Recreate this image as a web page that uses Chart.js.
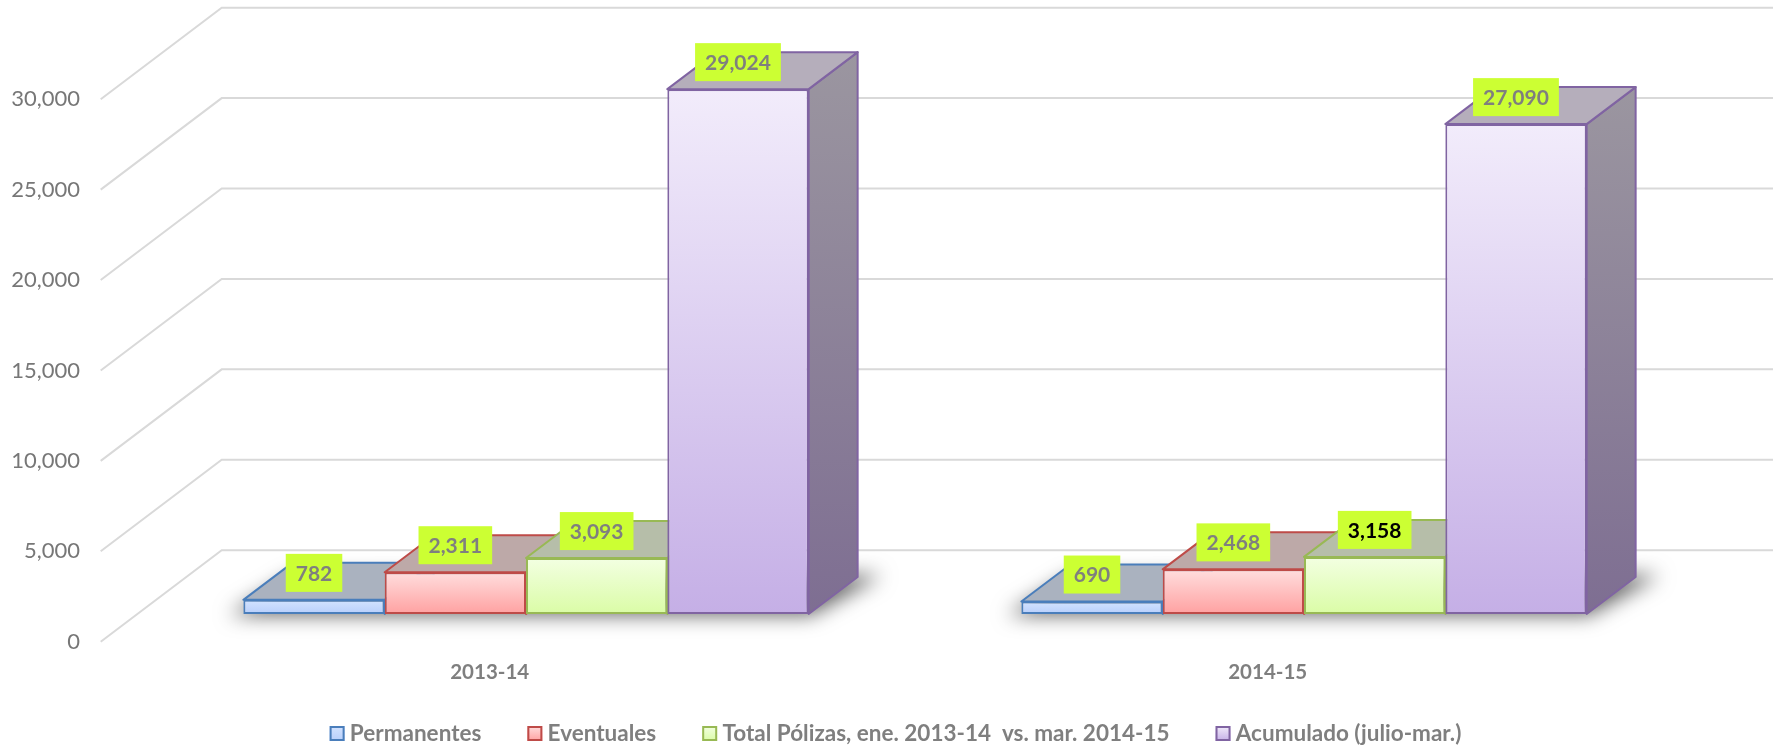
<!DOCTYPE html>
<html><head><meta charset="utf-8">
<style>html,body{margin:0;padding:0;background:#fff}canvas{display:block}</style>
<script src="https://cdn.jsdelivr.net/npm/chart.js@4"></script>
</head><body><canvas id="c" width="1773" height="746"></canvas>
<script>
const categories = ['2013-14', '2014-15'];
const permanentes = [782, 690];
const eventuales = [2311, 2468];
const totalPolizas = [3093, 3158];
const acumulado = [29024, 27090];
const seriesNames = ['Permanentes', 'Eventuales', 'Total Pólizas, ene. 2013-14  vs. mar. 2014-15', 'Acumulado (julio-mar.)'];
const seriesValues = [permanentes, eventuales, totalPolizas, acumulado];
const frontTop = ['#d3e3ff', '#ffdede', '#f3ffe2', '#f2ecfb'];
const frontBottom = ['#b8cffb', '#ffa1a1', '#dafca6', '#c5afe6'];
const strokes = ['#4a7ebb', '#be4b48', '#98b954', '#8064a2'];
const topFaces = ['#aab2bf', '#bda9a8', '#b6bea9', '#b5aebb'];
const sideTop = ['#8d97a8', '#a88f8e', '#9aa68a', '#9b96a0'];
const sideBottom = ['#7a8aa0', '#9c7878', '#8a9a70', '#7e6e92'];
const labelInk = [['#7f7f7f', '#7f7f7f'], ['#7f7f7f', '#7f7f7f'], ['#7f7f7f', '#000000'], ['#7f7f7f', '#7f7f7f']];

const FONT = 'Lato';
const GREY = '#7f7f7f';
const DEPTH_X = 49, DEPTH_Y = 37;            // depth of a bar in the oblique view
const WALL_X = 121, WALL_Y = 91.5;           // depth of the whole floor
const FRONT_X = -36.3, FRONT_Y = 27.7;       // offset from bar plane to the chart's front edge
const LEGEND_PADDING = 46;

Chart.defaults.font.family = FONT;
Chart.defaults.color = GREY;

function faceGradient(c) {
  const y = c.chart.scales.y;
  const top = c.parsed && y ? y.getPixelForValue(c.parsed.y) : NaN;
  const bottom = y ? y.getPixelForValue(0) : NaN;
  if (!Number.isFinite(top) || !Number.isFinite(bottom)) return frontTop[c.datasetIndex];
  const g = c.chart.ctx.createLinearGradient(0, top, 0, bottom);
  g.addColorStop(0, frontTop[c.datasetIndex]);
  g.addColorStop(1, frontBottom[c.datasetIndex]);
  return g;
}

function poly(ctx, pts) {
  ctx.beginPath();
  pts.forEach((p, i) => i ? ctx.lineTo(p[0], p[1]) : ctx.moveTo(p[0], p[1]));
  ctx.closePath();
}

const oblique = {
  id: 'oblique',
  afterLayout(chart) {
    const lg = chart.legend;
    lg.left += 49; lg.right += 49;
    lg.top = 676;
  },
  beforeDatasetsDraw(chart) {
    const ctx = chart.ctx, y = chart.scales.y, area = chart.chartArea;
    ctx.save();
    ctx.strokeStyle = '#d9d9d9';
    ctx.lineWidth = 2;
    y.ticks.forEach(t => {
      const py = y.getPixelForValue(t.value) + FRONT_Y;
      const fx = area.left + FRONT_X;
      ctx.beginPath();
      ctx.moveTo(fx, py);
      ctx.lineTo(fx + WALL_X, py - WALL_Y);
      ctx.lineTo(chart.width, py - WALL_Y);
      ctx.stroke();
    });
    // soft floor shadow under each group of bars
    const first = chart.getDatasetMeta(0).data, last = chart.getDatasetMeta(seriesNames.length - 1).data;
    const base = y.getPixelForValue(0);
    const off = 4000;
    first.forEach((b, i) => {
      const l = b.x - b.width / 2, r = last[i].x + last[i].width / 2;
      ctx.save();
      ctx.shadowColor = 'rgba(0,0,0,0.62)';
      ctx.shadowBlur = 20;
      ctx.shadowOffsetX = off;
      ctx.fillStyle = '#000';
      poly(ctx, [[l - 14 - off, base + 1], [r + 2 - off, base + 1], [r + DEPTH_X + 24 - off, base - DEPTH_Y - 2], [l + DEPTH_X - off, base - DEPTH_Y]]);
      ctx.fill();
      ctx.restore();
    });
    // side and top faces, painted left to right; the library then paints the fronts over them
    ctx.lineWidth = 2;
    ctx.lineJoin = 'round';
    seriesNames.forEach((_, i) => {
      ctx.strokeStyle = strokes[i];
      chart.getDatasetMeta(i).data.forEach(b => {
        const l = b.x - b.width / 2, r = b.x + b.width / 2, t = b.y, g = b.base;
        const side = ctx.createLinearGradient(0, t - DEPTH_Y, 0, g);
        side.addColorStop(0, sideTop[i]);
        side.addColorStop(1, sideBottom[i]);
        ctx.fillStyle = side;
        poly(ctx, [[r, t], [r + DEPTH_X, t - DEPTH_Y], [r + DEPTH_X, g - DEPTH_Y], [r, g]]);
        ctx.fill(); ctx.stroke();
        ctx.fillStyle = topFaces[i];
        poly(ctx, [[l, t], [l + DEPTH_X, t - DEPTH_Y], [r + DEPTH_X, t - DEPTH_Y], [r, t]]);
        ctx.fill(); ctx.stroke();
      });
    });
    ctx.restore();
  },
  afterDatasetsDraw(chart) {
    const ctx = chart.ctx;
    ctx.save();
    ctx.font = 'bold 21px ' + FONT;
    ctx.textAlign = 'center';
    ctx.textBaseline = 'middle';
    seriesValues.forEach((vals, i) => {
      chart.getDatasetMeta(i).data.forEach((b, j) => {
        const txt = vals[j].toLocaleString('en-US');
        const w = ctx.measureText(txt).width + 20, h = 38, cy = b.y - 27;
        ctx.fillStyle = '#ccff33';
        ctx.fillRect(b.x - w / 2, cy - h / 2, w, h);
        ctx.fillStyle = labelInk[i][j];
        ctx.fillText(txt, b.x, cy + 1);
      });
    });
    ctx.restore();
  },
  afterDraw(chart) {
    // legend swatches: wider than the text offset the legend leaves for them
    const ctx = chart.ctx, lg = chart.legend, size = 15, top = 726;
    let x = (lg.left + LEGEND_PADDING + lg.right - lg.lineWidths[0]) / 2;
    ctx.save();
    lg.legendHitBoxes.forEach((hit, i) => {
      const g = ctx.createLinearGradient(0, top, 0, top + size);
      g.addColorStop(0, frontTop[i]);
      g.addColorStop(1, frontBottom[i]);
      ctx.fillStyle = g;
      ctx.strokeStyle = strokes[i];
      ctx.lineWidth = 2;
      ctx.fillRect(x, top, size, size);
      ctx.strokeRect(x + 1, top + 1, size - 2, size - 2);
      x += hit.width + LEGEND_PADDING;
    });
    ctx.restore();
  }
};

new Chart(document.getElementById('c'), {
  type: 'bar',
  data: {
    labels: categories,
    datasets: seriesNames.map((name, i) => ({
      label: name,
      data: seriesValues[i],
      backgroundColor: faceGradient,
      borderColor: strokes[i],
      borderWidth: 2,
      borderSkipped: false,
      barPercentage: 1,
      categoryPercentage: 0.7266
    }))
  },
  plugins: [oblique],
  options: {
    responsive: false,
    animation: false,
    layout: { padding: { left: 0, right: 80, top: 71.5, bottom: -21.5 } },
    scales: {
      x: {
        grid: { display: false }, border: { display: false },
        afterFit(s) { s.height = 75; },
        ticks: { labelOffset: FRONT_X, padding: 38.4, maxRotation: 0, autoSkip: false, color: GREY, font: { size: 20.5, weight: 'bold' } }
      },
      y: {
        min: 0, max: 30000,
        grid: { display: false }, border: { display: false },
        afterFit(s) { s.width = 137; },
        ticks: { stepSize: 5000, labelOffset: FRONT_Y, padding: 49, color: '#777777', font: { size: 22 },
          callback: v => v.toLocaleString('en-US') }
      }
    },
    plugins: {
      tooltip: { enabled: false },
      legend: {
        position: 'bottom',
        labels: {
          boxWidth: 9, boxHeight: 14, padding: LEGEND_PADDING, color: GREY,
          font: { size: 22.5, weight: 'bold' },
          generateLabels(chart) {
            return Chart.defaults.plugins.legend.labels.generateLabels(chart).map(it => {
              it.fillStyle = 'rgba(0,0,0,0)';
              it.strokeStyle = 'rgba(0,0,0,0)';
              it.lineWidth = 0;
              return it;
            });
          }
        }
      }
    }
  }
});
</script></body></html>
